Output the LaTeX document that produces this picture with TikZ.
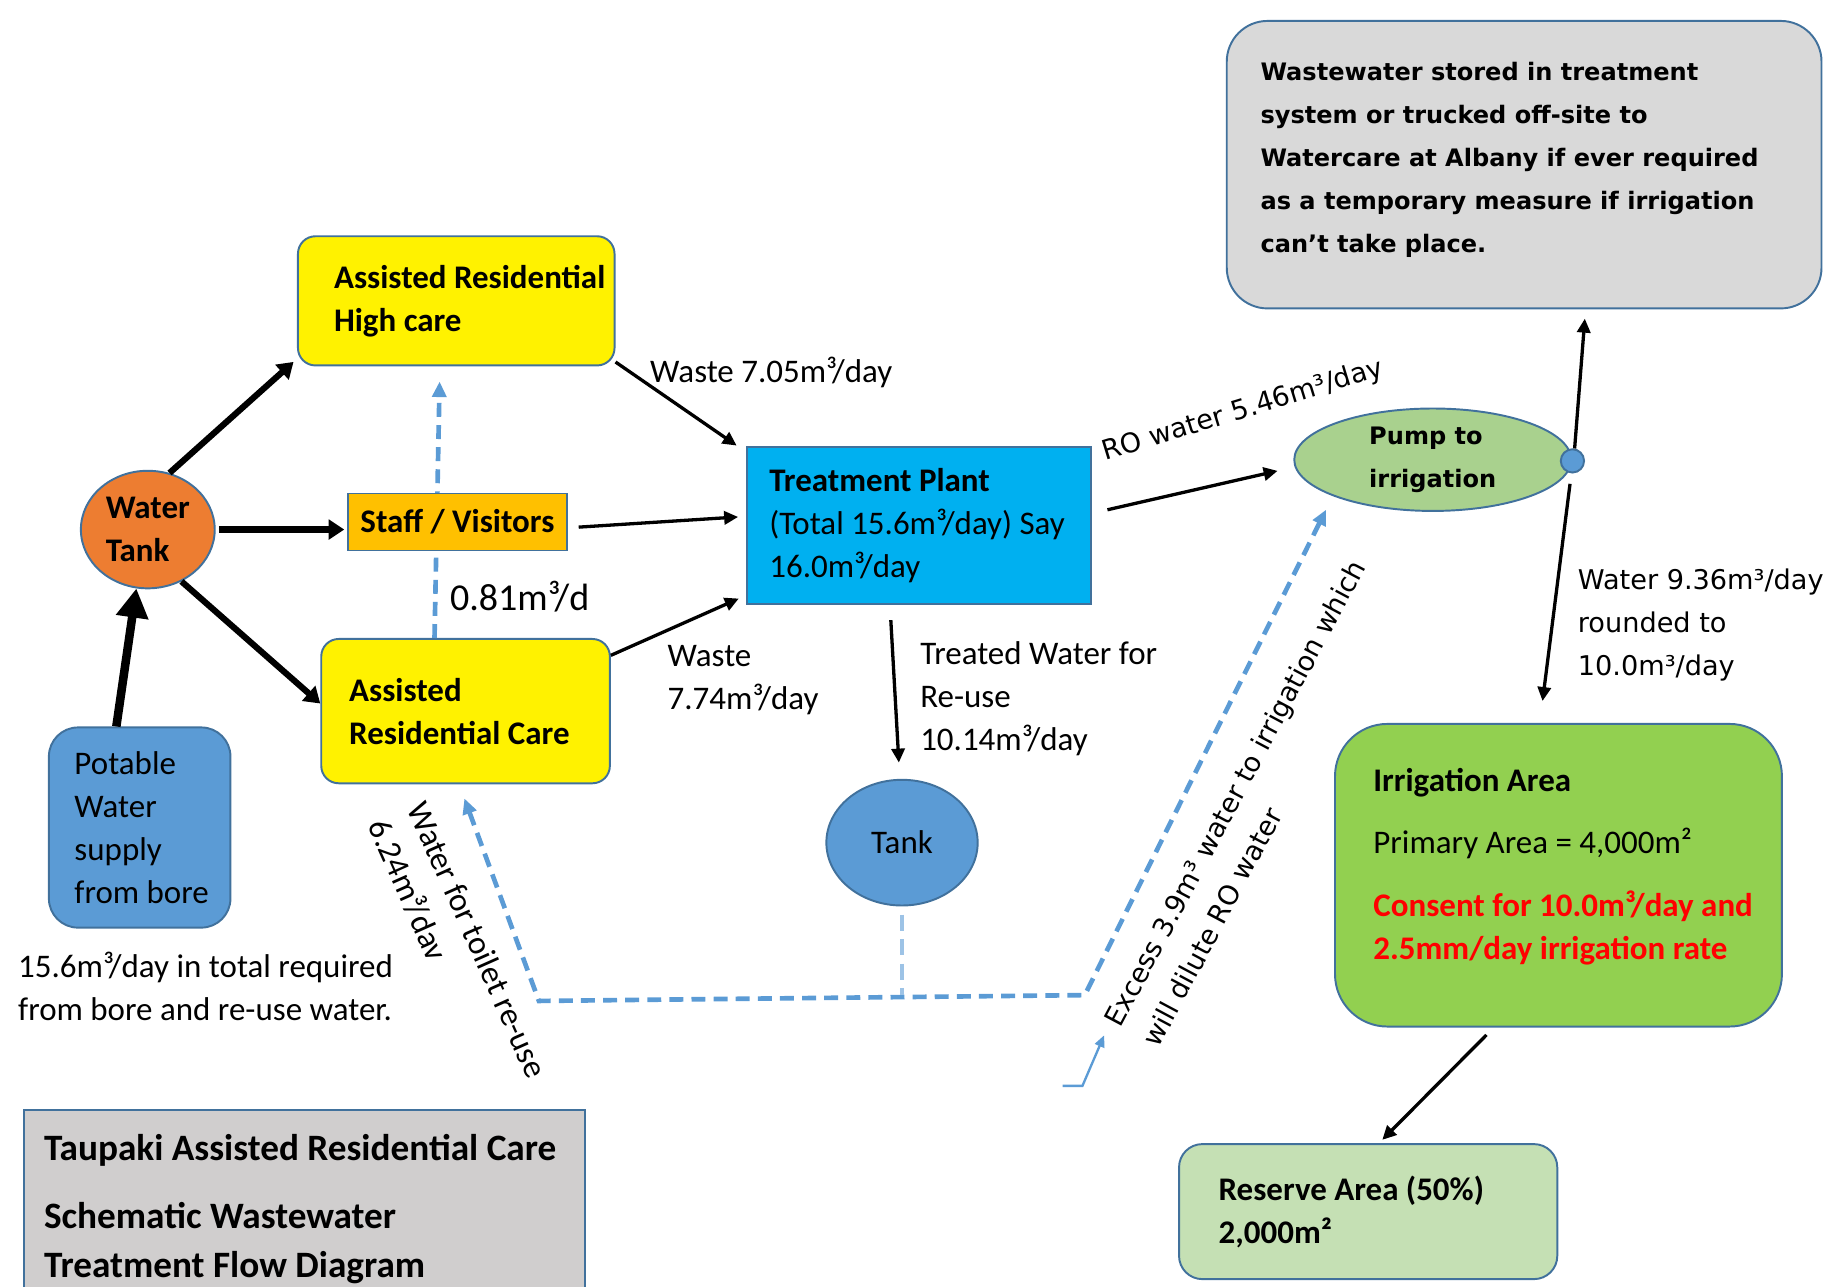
\documentclass[tikz,border=0pt]{standalone}
\usepackage{fontspec}
\setmainfont{Carlito}
\newfontfamily\verd{DejaVu Sans}
\usepackage{tikz}
\usetikzlibrary{arrows.meta,positioning,calc,shapes.geometric}

\definecolor{olblue}{HTML}{41719C}
\definecolor{wblue}{HTML}{5B9BD5}
\definecolor{lblue}{HTML}{9DC3E6}
\definecolor{tankor}{HTML}{ED7D31}
\definecolor{staffor}{HTML}{FFC000}
\definecolor{plantbl}{HTML}{00B0F0}
\definecolor{pumpgr}{HTML}{A9D18E}
\definecolor{irrgr}{HTML}{92D050}
\definecolor{resgr}{HTML}{C5E0B4}
\definecolor{notegr}{HTML}{D9D9D9}
\definecolor{ttlgr}{HTML}{D0CECE}

\newcommand{\bodyfs}{\fontsize{8.5}{11.1}\selectfont}
\newcommand{\bigfs}{\fontsize{9.8}{11.1}\selectfont}
\newcommand{\ttlfs}{\bfseries\fontsize{9.6}{11.1}\selectfont}
\newcommand{\vfs}{\verd\fontsize{7}{11.1}\selectfont}
\newcommand{\vbfs}{\verd\bfseries\fontsize{6.2}{11.1}\selectfont}

\begin{document}
\begin{tikzpicture}[
        x=0.3pt, y=-0.3pt,
        font=\bodyfs,
        boxsty/.style={
            draw=olblue, line width=0.5pt,
            rectangle, align=flush left,
        },
        unitsty/.style={
            boxsty, fill=yellow, font=\bodyfs\bfseries,
            rounded corners=4.5pt,
        },
        tanksty/.style={
            draw=olblue, line width=0.5pt, ellipse,
            inner sep=0pt, align=left,
        },
        lblsty/.style={align=left, anchor=west, inner xsep=0pt},
        feedsty/.style={-{Triangle[length=4pt,width=5pt]}, line width=1.6pt},
        boresty/.style={-{Triangle[length=7.5pt,width=8pt]}, line width=2.2pt},
        flowsty/.style={-{Triangle[length=3.6pt,width=3.4pt]}, line width=0.85pt},
        reusesty/.style={wblue, line width=1.2pt, dash pattern=on 3.6pt off 2.1pt,
            >={Triangle[length=4pt,width=3.6pt]}},
        supsty/.style={lblue, line width=0.9pt, dash pattern=on 4.2pt off 2.1pt},
        ptrsty/.style={wblue, line width=0.6pt, -{Triangle[length=3pt,width=2.6pt]}},
    ]
    \useasboundingbox (0,0) rectangle (1568,1105);

    % buildings and supply
    \node[unitsty, minimum width=81.6pt, minimum height=33.3pt, inner xsep=9.3pt,
        text width=63pt] at (392,258.5) (hc) {\mbox{Assisted Residential}\\High care};
    \node[unitsty, minimum width=74.4pt, minimum height=37.2pt, inner xsep=7.2pt,
        text width=60pt] at (400,611) (arc) {Assisted\\\mbox{Residential Care}};

    \draw[reusesty, ->, shorten >=3.9pt] (arc.113) -- (hc.-104);

    \node[boxsty, fill=staffor, font=\bodyfs\bfseries, minimum width=56.4pt,
        minimum height=14.7pt] at (393,448.5) (sv) {Staff / Visitors};
    \node[tanksty, fill=tankor, font=\bodyfs\bfseries, minimum width=34.5pt,
        minimum height=30.3pt] at (127,455) (wt) {Water\\Tank};
    \node[boxsty, fill=wblue, rounded corners=7.5pt, minimum width=46.8pt,
        minimum height=51.6pt, inner xsep=6.6pt, text width=33.6pt] at (120,711) (bore)
        {Potable\\Water\\supply\\\mbox{from bore}};
    \node[lblsty] at (15,847.5) (need)
        {15.6m³/day in total required\\from bore and re-use water.};

    % treatment
    \node[boxsty, fill=plantbl, minimum width=88.5pt, minimum height=40.5pt,
        inner xsep=5.7pt, text width=77.1pt] at (789.5,451.5) (tp)
        {\textbf{Treatment Plant}\\\mbox{(Total 15.6m³/day) Say}\\16.0m³/day};
    \node[tanksty, fill=wblue, minimum width=39pt, minimum height=32.4pt] at (775,724) (tk) {Tank};
    \node[tanksty, fill=pumpgr, font=\vbfs, minimum width=71.4pt,
        minimum height=26.4pt] at (1231,395) (pump) {Pump to\\irrigation};
    \node[circle, draw=olblue, fill=wblue, line width=0.5pt, minimum size=6pt,
        inner sep=0pt] at (1351,396) (vlv) {};

    % disposal
    \node[boxsty, fill=notegr, font=\vbfs, rounded corners=10.5pt, minimum width=153.3pt,
        minimum height=74.1pt, inner xsep=8.7pt, text width=135.9pt] at (1309.5,141.5) (note)
        {Wastewater stored in treatment\\system or trucked off-site to\\\mbox{Watercare at Albany if ever required}\\\mbox{as a temporary measure if irrigation}\\can’t take place.\par\kern2.4pt};
    \node[boxsty, fill=irrgr, rounded corners=13.5pt, minimum width=115.2pt,
        minimum height=78pt, inner xsep=9.9pt, text width=95.4pt] at (1339,752) (irr)
        {\textbf{Irrigation Area}\\[4.8pt]Primary Area = 4,000m²\\[5.1pt]{\color{red}\bfseries \mbox{Consent for 10.0m³/day and}\\\mbox{2.5mm/day irrigation rate}}\par\kern4.5pt};
    \node[boxsty, fill=resgr, font=\bodyfs\bfseries, rounded corners=6pt, minimum width=97.5pt,
        minimum height=34.8pt, inner xsep=10.2pt, text width=77.1pt] at (1175.5,1041) (res)
        {Reserve Area (50\%)\\2,000m²};

    \node[boxsty, fill=ttlgr, font=\ttlfs, anchor=north west, inner xsep=5.1pt,
        minimum height=51pt, text width=134.4pt] at (20,953) (ttl)
        {\mbox{Taupaki Assisted Residential Care}\\[6.3pt]Schematic Wastewater\\[1.5pt]Treatment Flow Diagram};

    % flows
    \draw[feedsty, shorten >=1.2pt] (wt.69) -- (hc.200);
    \draw[feedsty, shorten <=0.8pt, shorten >=0.6pt] (wt.east) -- (wt.east -| sv.west);
    \draw[feedsty] (wt.-57) -- (arc.177);
    \draw[boresty] (bore.103) -- (wt.-101);

    \draw[flowsty, shorten >=3pt] (hc.-21) -- (tp.157);
    \draw[flowsty, shorten <=2.7pt, shorten >=2.1pt] (sv.-3) -- (tp.177);
    \draw[flowsty, shorten >=2.1pt] (arc.21) -- (tp.202);
    \draw[flowsty, shorten <=3.9pt, shorten >=4.2pt] (tp.-110) -- (tk.92);
    \draw[flowsty, shorten <=4.2pt, shorten >=4.5pt] (tp.4) -- (pump.183);
    \draw[flowsty, shorten >=2.4pt] (vlv.80) -- (note.-67);
    \draw[flowsty, shorten <=2.7pt, shorten >=5.7pt] (vlv.-95) -- (irr.97);
    \draw[flowsty, shorten <=2.7pt, shorten >=1.2pt] (irr.-113) -- (res.81);

    % re-use water
    \coordinate (jl) at (463,860);
    \coordinate (jr) at (932,855);
    \draw[reusesty, <->, shorten <=3.9pt, shorten >=3.9pt]
        (arc.-95) -- (jl) -- (jr) -- (pump.200);
    \draw[supsty, shorten <=2.1pt] (tk.south) -- (tk.south |- jr);

    % labels
    \node[lblsty] at (558,320) (l705) {Waste 7.05m³/day};
    \node[lblsty] at (573,584) (l774) {Waste\\7.74m³/day};
    \node[lblsty, font=\bigfs] at (386,513) (l081) {0.81m³/d};
    \node[lblsty] at (790,600) (lreuse) {Treated Water for\\Re-use\\10.14m³/day};
    \node[font=\vfs, rotate=17] at (1068,353) (lro) {RO water 5.46m³/day};
    \node[lblsty, font=\vfs] at (1355,537) (l936)
        {Water 9.36m³/day\\rounded to\\10.0m³/day};
    \node[align=left, rotate=-66] at (393,815) (ltoilet) {Water for toilet re-use\\6.24m³/dav};
    \node[align=left, font=\vfs, rotate=62] at (1077,690) (lexcess)
        {Excess 3.9m³ water to irrigation which\\will dilute RO water};

    \coordinate (ptr) at (913,933);
    \draw[ptrsty] (ptr) -- ++(17,0) -- ($(lexcess.west)!0.5!(lexcess.north west)$);

\end{tikzpicture}
\end{document}
